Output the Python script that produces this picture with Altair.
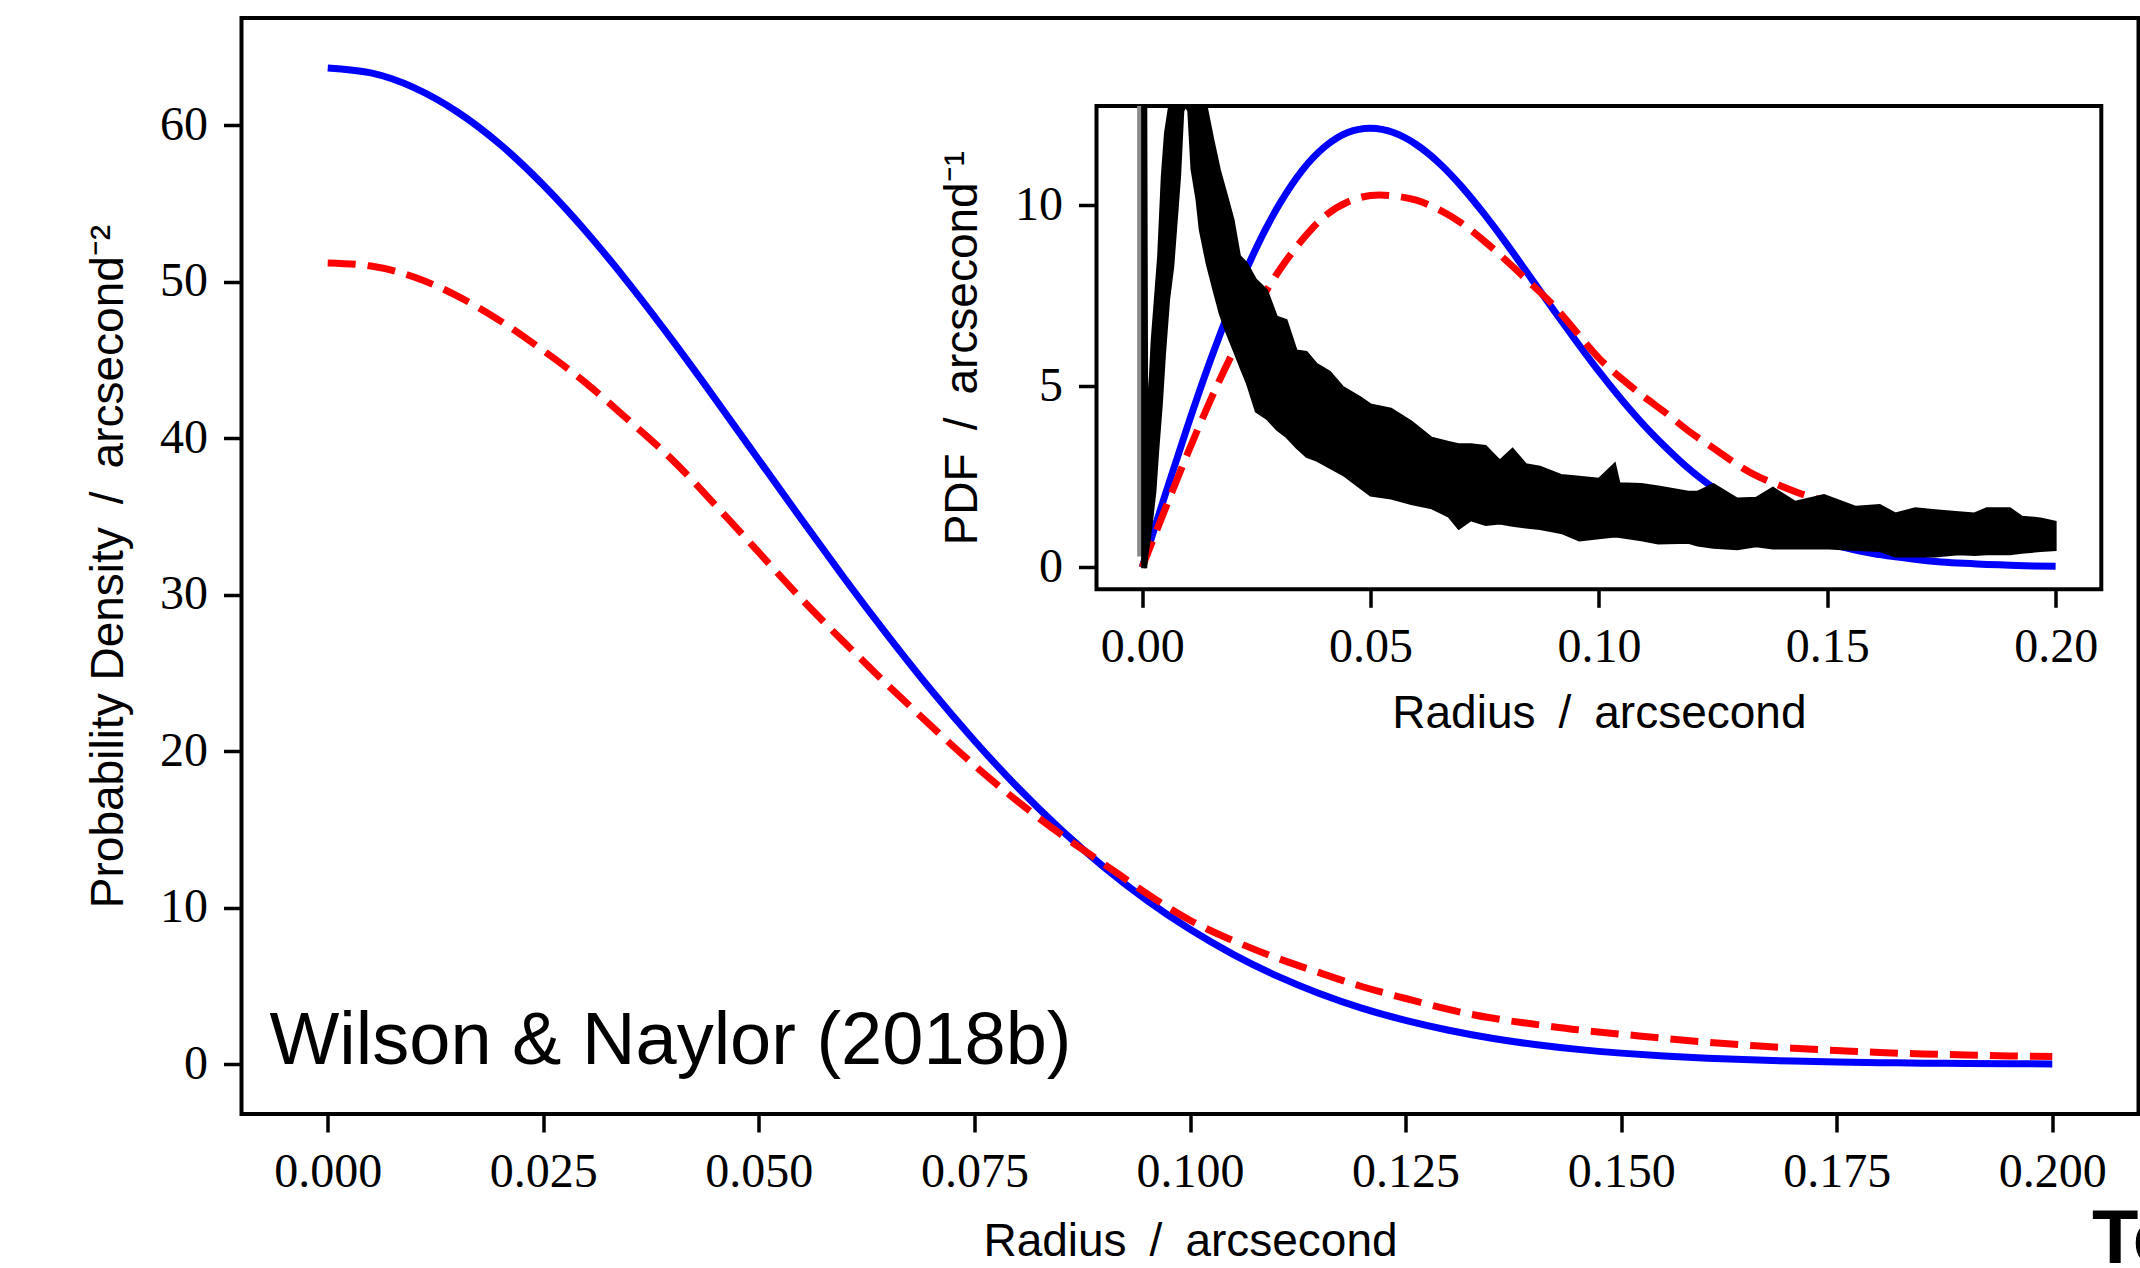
import altair as alt
import pandas as pd

# ---------------- data ----------------
# main panel: radius grid (arcsec) and the two surface densities
radius = [0.000, 0.005, 0.010, 0.015, 0.020, 0.025, 0.030, 0.035, 0.040, 0.045,
          0.050, 0.055, 0.060, 0.065, 0.070, 0.075, 0.080, 0.085, 0.090, 0.095,
          0.100, 0.105, 0.110, 0.115, 0.120, 0.125, 0.130, 0.135, 0.140, 0.145,
          0.150, 0.155, 0.160, 0.165, 0.170, 0.175, 0.180, 0.185, 0.190, 0.195, 0.200]
blue_density = [63.66, 63.34, 62.40, 60.86, 58.77, 56.18, 53.18, 49.83, 46.23, 42.46,
                38.61, 34.77, 30.99, 27.35, 23.89, 20.67, 17.70, 15.01, 12.60, 10.47,
                8.62, 7.02, 5.66, 4.52, 3.57, 2.80, 2.17, 1.66, 1.26, 0.95,
                0.71, 0.52, 0.38, 0.28, 0.20, 0.14, 0.10, 0.07, 0.05, 0.03, 0.02]
red_density = [51.20, 51.00, 50.30, 49.10, 47.50, 45.60, 43.50, 41.10, 38.60, 35.70,
               32.70, 29.70, 26.90, 24.20, 21.60, 19.10, 16.80, 14.70, 12.80, 10.90,
               9.20, 7.90, 6.80, 5.85, 4.95, 4.20, 3.50, 2.95, 2.55, 2.20,
               1.92, 1.65, 1.40, 1.20, 1.02, 0.88, 0.75, 0.66, 0.59, 0.53, 0.49]

# inset: radial PDFs on the same grid
blue_pdf = [0.00, 1.99, 3.92, 5.74, 7.38, 8.83, 10.02, 10.96, 11.62, 12.01,
            12.13, 12.01, 11.68, 11.17, 10.51, 9.74, 8.90, 8.01, 7.12, 6.25,
            5.41, 4.63, 3.91, 3.27, 2.69, 2.20, 1.77, 1.41, 1.11, 0.87,
            0.67, 0.51, 0.38, 0.29, 0.21, 0.15, 0.11, 0.08, 0.06, 0.04, 0.03]
red_pdf = [0.00, 1.60, 3.16, 4.63, 5.97, 7.16, 8.20, 9.04, 9.70, 10.09,
           10.27, 10.26, 10.14, 9.88, 9.50, 9.00, 8.44, 7.85, 7.24, 6.51,
           5.78, 5.21, 4.70, 4.23, 3.73, 3.30, 2.86, 2.50, 2.24, 2.00,
           1.81, 1.61, 1.41, 1.24, 1.09, 0.97, 0.85, 0.77, 0.70, 0.65, 0.62]

# inset: noisy empirical distribution, read as lower / upper envelope of the black band
band_radius = [0.0000, 0.0009, 0.0011, 0.0017, 0.0021, 0.0029, 0.0035, 0.0043, 0.0050, 0.0059,
               0.0068, 0.0083, 0.0090, 0.0095, 0.0101, 0.0108, 0.0119, 0.0126, 0.0141, 0.0156,
               0.0170, 0.0185, 0.0200, 0.0214, 0.0229, 0.0249, 0.0273, 0.0295, 0.0316, 0.0338,
               0.0360, 0.0382, 0.0411, 0.0440, 0.0477, 0.0500, 0.0545, 0.0589, 0.0634, 0.0671,
               0.0693, 0.0720, 0.0752, 0.0783, 0.0811, 0.0840, 0.0871, 0.0917, 0.0957, 0.1000,
               0.1035, 0.1045, 0.1093, 0.1130, 0.1196, 0.1216, 0.1251, 0.1303, 0.1344, 0.1381,
               0.1430, 0.1493, 0.1563, 0.1615, 0.1649, 0.1693, 0.1736, 0.1788, 0.1822, 0.1849,
               0.1900, 0.1926, 0.1967, 0.2000]
band_low = [0.00, 0.00, 0.30, 0.80, 1.20, 2.10, 3.20, 4.50, 5.90, 7.40,
            8.30, 10.80, 12.60, 12.74, 12.60, 11.00, 10.15, 9.33, 8.40, 7.66,
            7.00, 6.47, 6.00, 5.55, 5.09, 4.30, 4.10, 3.80, 3.60, 3.30,
            3.05, 2.95, 2.75, 2.55, 2.20, 1.98, 1.90, 1.75, 1.63, 1.40,
            1.06, 1.30, 1.17, 1.21, 1.15, 1.10, 1.06, 0.95, 0.74, 0.80,
            0.85, 0.84, 0.75, 0.66, 0.68, 0.60, 0.54, 0.50, 0.58, 0.52,
            0.52, 0.53, 0.48, 0.45, 0.30, 0.30, 0.30, 0.36, 0.34, 0.36,
            0.36, 0.40, 0.45, 0.48]
band_high = [12.74, 12.74, 4.20, 5.30, 6.30, 7.60, 8.60, 10.80, 12.00, 12.74,
             12.74, 12.74, 12.74, 12.74, 12.74, 12.74, 12.74, 12.74, 12.74, 11.80,
             10.98, 10.30, 9.60, 8.60, 8.40, 7.95, 7.66, 6.92, 6.83, 5.99,
             5.95, 5.62, 5.40, 4.98, 4.70, 4.50, 4.38, 4.03, 3.58, 3.46,
             3.40, 3.40, 3.35, 2.95, 3.28, 2.85, 2.78, 2.55, 2.50, 2.45,
             2.87, 2.32, 2.30, 2.23, 2.09, 2.09, 2.30, 1.90, 1.92, 2.20,
             1.81, 2.00, 1.67, 1.72, 1.49, 1.63, 1.58, 1.52, 1.49, 1.63,
             1.63, 1.40, 1.35, 1.26]
# grey trace hugging r = 0
spike_r1, spike_r2 = [-0.0011], [0.0]
spike_v1, spike_v2 = [0.3], [12.74]

# axes
main_x_domain = [-0.01, 0.21]
main_y_domain = [-3.18, 66.85]
inset_x_domain = [-0.01, 0.21]
inset_y_domain = [-0.607, 12.74]
main_x_ticks = [0.0, 0.025, 0.05, 0.075, 0.1, 0.125, 0.15, 0.175, 0.2]
main_y_ticks = [0, 10, 20, 30, 40, 50, 60]
inset_x_ticks = [0.0, 0.05, 0.1, 0.15, 0.2]
inset_y_ticks = [0, 5, 10]

# ---------------- layout (pixels) ----------------
W, H = 1897, 1096
PAD_L, PAD_T, PAD_R, PAD_B = 241.5, 18, 1.5, 154
IN_L, IN_R, IN_T, IN_B = 1096.5, 2101.3, 106.1, 589.3

main_df = pd.DataFrame({"r": radius, "blue": blue_density, "red": red_density})
inset_df = pd.DataFrame({"r": radius, "blue": blue_pdf, "red": red_pdf})
band_df = pd.DataFrame({"r": band_radius, "lo": band_low, "hi": band_high})
spike_df = pd.DataFrame({"r1": spike_r1, "r2": spike_r2, "v1": spike_v1, "v2": spike_v2})
frame_df = pd.DataFrame({"r1": [inset_x_domain[0]], "r2": [inset_x_domain[1]],
                         "v1": [inset_y_domain[0]], "v2": [inset_y_domain[1]]})
label_df = pd.DataFrame({"r": [-0.00675], "v": [0.0], "t": ["Wilson & Naylor (2018b)"]})

xs_main = alt.Scale(domain=main_x_domain, nice=False, zero=False)
ys_main = alt.Scale(domain=main_y_domain, nice=False, zero=False)
xs_in = alt.Scale(domain=inset_x_domain, range=[IN_L - PAD_L, IN_R - PAD_L], nice=False, zero=False)
ys_in = alt.Scale(domain=inset_y_domain, range=[IN_B - PAD_T, IN_T - PAD_T], nice=False, zero=False, clamp=True)

SEP = "\u2002/\u2002"
ax_mx = alt.Axis(title="Radius" + SEP + "arcsecond", values=main_x_ticks, format=".3f",
                 orient="bottom", titleY=141, titleBaseline="alphabetic")
ax_my = alt.Axis(title="Probability Density" + SEP + "arcsecond\u207b\u00b2", values=main_y_ticks,
                 format="d", orient="left", titleX=-119, titleAngle=270, titleBaseline="alphabetic")
ax_ix = alt.Axis(title="Radius" + SEP + "arcsecond", values=inset_x_ticks, format=".2f",
                 orient="bottom", offset=-(PAD_T + H - IN_B), titleY=138, titleBaseline="alphabetic")
ax_iy = alt.Axis(title="PDF" + SEP + "arcsecond\u207b\u00b9", values=inset_y_ticks, format="d",
                 orient="left", offset=-(IN_L - PAD_L), titleX=-120.5, titleAngle=270,
                 titleBaseline="alphabetic")

base_m = alt.Chart(main_df)
m_blue = base_m.mark_line(color="#0000ff", strokeWidth=7, interpolate="natural").encode(
    x=alt.X("r:Q", scale=xs_main, axis=ax_mx),
    y=alt.Y("blue:Q", scale=ys_main, axis=ax_my),
)
m_red = base_m.mark_line(color="#ff0000", strokeWidth=7, strokeDash=[28, 12], strokeCap="butt",
                         interpolate="natural").encode(
    x=alt.X("r:Q", scale=xs_main, axis=ax_mx),
    y=alt.Y("red:Q", scale=ys_main, axis=ax_my),
)
m_label = alt.Chart(label_df).mark_text(align="left", baseline="alphabetic", font="Liberation Sans",
                                        fontSize=74, color="black").encode(
    x=alt.X("r:Q", scale=xs_main, axis=ax_mx),
    y=alt.Y("v:Q", scale=ys_main, axis=ax_my),
    text="t:N",
)
main_layer = alt.layer(m_blue, m_red, m_label)

i_frame = alt.Chart(frame_df).mark_rect(fill="white", stroke="black", strokeWidth=4).encode(
    x=alt.X("r1:Q", scale=xs_in, axis=ax_ix), x2="r2:Q",
    y=alt.Y("v1:Q", scale=ys_in, axis=ax_iy), y2="v2:Q",
)
base_i = alt.Chart(inset_df)
i_blue = base_i.mark_line(color="#0000ff", strokeWidth=7, interpolate="natural").encode(
    x=alt.X("r:Q", scale=xs_in, axis=ax_ix),
    y=alt.Y("blue:Q", scale=ys_in, axis=ax_iy),
)
i_red = base_i.mark_line(color="#ff0000", strokeWidth=7, strokeDash=[28, 12], strokeCap="butt",
                         interpolate="natural").encode(
    x=alt.X("r:Q", scale=xs_in, axis=ax_ix),
    y=alt.Y("red:Q", scale=ys_in, axis=ax_iy),
)
i_spike = alt.Chart(spike_df).mark_rect(color="#8a8a8a").encode(
    x=alt.X("r1:Q", scale=xs_in, axis=ax_ix), x2="r2:Q",
    y=alt.Y("v1:Q", scale=ys_in, axis=ax_iy), y2="v2:Q",
)
i_band = alt.Chart(band_df).mark_area(color="black", stroke="black", strokeWidth=2,
                                      interpolate="linear").encode(
    x=alt.X("r:Q", scale=xs_in, axis=ax_ix),
    y=alt.Y("lo:Q", scale=ys_in, axis=ax_iy),
    y2="hi:Q",
)
inset_layer = alt.layer(i_frame, i_blue, i_red, i_spike, i_band)

te_text = alt.Chart(pd.DataFrame({"t": ["Te"]})).mark_text(
    align="left", baseline="alphabetic", font="Liberation Sans", fontSize=76, fontWeight="bold",
    color="black").encode(x=alt.value(2092 - PAD_L), y=alt.value(1263 - PAD_T), text="t:N")

chart = alt.layer(main_layer, inset_layer, te_text).resolve_scale(
    x="independent", y="independent"
).properties(
    width=W, height=H,
    autosize=alt.AutoSizeParams(type="none"),
    padding={"left": PAD_L, "top": PAD_T, "right": PAD_R, "bottom": PAD_B},
    background="white",
).configure_view(
    stroke="black", strokeWidth=4, fill="white"
).configure_axis(
    grid=False, domain=False, tickColor="black", tickWidth=3.5, tickSize=18, labelPadding=16,
    labelFont="Liberation Serif", labelFontSize=48, labelColor="black", labelFlush=False,
    labelOverlap=False, titleFont="Liberation Sans", titleFontSize=46, titleFontWeight="normal",
    titleColor="black",
)

chart.save("out.html", embed_options={"renderer": "svg", "actions": False})
